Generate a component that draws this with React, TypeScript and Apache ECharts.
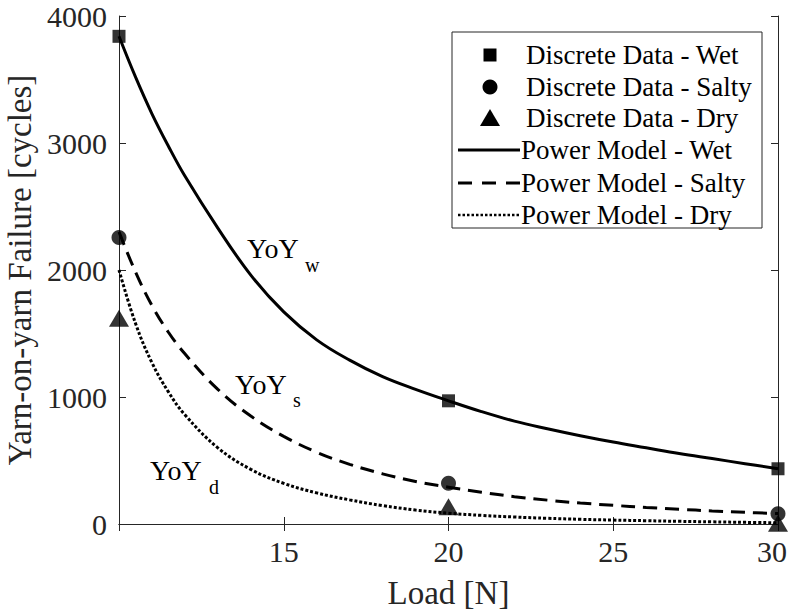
import React, { useEffect, useRef } from "react";
import * as echarts from "echarts";

// Discrete measurements
const loadPoints = [10, 20, 30];
const wetData = [3840, 970, 435];
const saltyData = [2255, 320, 80];
const dryData = [1620, 135, 5];

// Power-model curves
const modelLoads = [10, 10.5, 11, 11.5, 12, 13, 14, 15, 16, 17, 18, 19, 20, 21, 22, 23, 24, 25, 26, 27, 28, 29, 30];
const wetModel = [3840, 3520, 3230, 2975, 2740, 2330, 1960, 1670, 1450, 1290, 1160, 1060, 970, 885, 810, 750, 695, 645, 600, 555, 515, 475, 435];
const saltyModel = [2300, 1985, 1720, 1510, 1340, 1060, 850, 690, 565, 470, 395, 335, 290, 250, 215, 188, 165, 147, 130, 116, 103, 92, 82];
const dryModel = [2000, 1580, 1270, 1040, 860, 600, 430, 320, 245, 190, 145, 110, 85, 68, 55, 45, 37, 31, 26, 21, 17, 13, 10];

const legendLabels = [
  "Discrete Data - Wet",
  "Discrete Data - Salty",
  "Discrete Data - Dry",
  "Power Model - Wet",
  "Power Model - Salty",
  "Power Model - Dry",
];
const curveMain = ["YoY", "YoY", "YoY"];
const curveSubs = ["w", "s", "d"];

const xAxisName = "Load [N]";
const yAxisName = "Yarn-on-yarn Failure [cycles]";

const FONT = "Liberation Serif";
const AXIS_COLOR = "#262626";

function pairs(xs: number[], ys: number[]) {
  return xs.map((x, i) => [x, ys[i]]);
}

export default function App() {
  const ref = useRef<HTMLDivElement>(null);
  useEffect(() => {
    if (!ref.current) return;
    const chart = echarts.init(ref.current, null, { renderer: "svg" });

    const legendX = 452;
    const legendY = 32;
    const rowY = [55, 87, 118, 150, 183, 215];
    const symX = 490;
    const lineX1 = 458;
    const lineX2 = 520;

    const legendGraphics: any[] = [
      {
        type: "rect",
        shape: { x: legendX, y: legendY, width: 310, height: 196 },
        style: { fill: "#fff", stroke: AXIS_COLOR, lineWidth: 1 },
        z: 100,
      },
      {
        type: "rect",
        shape: { x: symX - 6.5, y: rowY[0] - 6.5, width: 13, height: 13 },
        style: { fill: "#000" },
        z: 101,
      },
      {
        type: "circle",
        shape: { cx: symX, cy: rowY[1], r: 7.5 },
        style: { fill: "#000" },
        z: 101,
      },
      {
        type: "polygon",
        shape: {
          points: [
            [symX - 10, rowY[2] + 8],
            [symX + 10, rowY[2] + 8],
            [symX, rowY[2] - 9],
          ],
        },
        style: { fill: "#000" },
        z: 101,
      },
      {
        type: "line",
        shape: { x1: lineX1, y1: rowY[3], x2: lineX2, y2: rowY[3] },
        style: { stroke: "#000", lineWidth: 3 },
        z: 101,
      },
      {
        type: "line",
        shape: { x1: lineX1, y1: rowY[4], x2: lineX2, y2: rowY[4] },
        style: { stroke: "#000", lineWidth: 3, lineDash: [14, 10] },
        z: 101,
      },
      {
        type: "line",
        shape: { x1: lineX1, y1: rowY[5], x2: lineX2, y2: rowY[5] },
        style: { stroke: "#000", lineWidth: 2.5, lineDash: [2.5, 2] },
        z: 101,
      },
    ];
    legendLabels.forEach((t, i) => {
      legendGraphics.push({
        type: "text",
        x: i < 3 ? 526 : 521,
        y: rowY[i],
        style: {
          text: t,
          fontFamily: FONT,
          fontSize: 27,
          fill: "#000",
          verticalAlign: "middle",
          align: "left",
        },
        z: 102,
      });
    });

    const annPos = [
      { x: 247, y: 248, sx: 305, sy: 265 },
      { x: 235, y: 384, sx: 293, sy: 400 },
      { x: 150, y: 470, sx: 209, sy: 487 },
    ];
    const annGraphics: any[] = [];
    annPos.forEach((p, i) => {
      annGraphics.push({
        type: "text",
        x: p.x,
        y: p.y,
        style: { text: curveMain[i], fontFamily: FONT, fontSize: 28, fill: "#000", verticalAlign: "middle" },
        z: 50,
      });
      annGraphics.push({
        type: "text",
        x: p.sx,
        y: p.sy,
        style: { text: curveSubs[i], fontFamily: FONT, fontSize: 20, fill: "#000", verticalAlign: "middle" },
        z: 50,
      });
    });

    const axisLabelStyle = { color: AXIS_COLOR, fontFamily: FONT, fontSize: 30 };

    chart.setOption({
      animation: false,
      backgroundColor: "#fff",
      grid: { left: 119, right: 11, top: 16, bottom: 91, outerBoundsMode: "none", containLabel: false },
      xAxis: [
        {
          type: "value",
          min: 10,
          max: 30,
          interval: 5,
          name: xAxisName,
          nameLocation: "middle",
          nameGap: 52,
          nameTextStyle: { color: AXIS_COLOR, fontFamily: FONT, fontSize: 33 },
          axisLine: { show: true, lineStyle: { color: AXIS_COLOR, width: 1 } },
          axisTick: { show: true, inside: true, length: 7, lineStyle: { color: AXIS_COLOR } },
          axisLabel: {
            ...axisLabelStyle,
            margin: 12,
            showMinLabel: false,
            formatter: (v: number) => (v === 30 ? `{last|${v}}` : String(v)),
            rich: {
              last: { ...axisLabelStyle, padding: [0, 12, 0, 0] },
            },
          },
          splitLine: { show: false },
        },
        {
          type: "value",
          position: "top",
          min: 10,
          max: 30,
          interval: 5,
          axisLine: { show: true, lineStyle: { color: AXIS_COLOR, width: 1 } },
          axisTick: { show: true, inside: true, length: 7, lineStyle: { color: AXIS_COLOR } },
          axisLabel: { show: false },
          splitLine: { show: false },
        },
      ],
      yAxis: [
        {
          type: "value",
          min: 0,
          max: 4000,
          interval: 1000,
          name: yAxisName,
          nameLocation: "middle",
          nameGap: 74,
          nameTextStyle: { color: AXIS_COLOR, fontFamily: FONT, fontSize: 33 },
          axisLine: { show: true, lineStyle: { color: AXIS_COLOR, width: 1 } },
          axisTick: { show: true, inside: true, length: 7, lineStyle: { color: AXIS_COLOR } },
          axisLabel: { ...axisLabelStyle, margin: 12, formatter: (v: number) => String(v) },
          splitLine: { show: false },
        },
        {
          type: "value",
          position: "right",
          min: 0,
          max: 4000,
          interval: 1000,
          axisLine: { show: true, lineStyle: { color: AXIS_COLOR, width: 1 } },
          axisTick: { show: true, inside: true, length: 7, lineStyle: { color: AXIS_COLOR } },
          axisLabel: { show: false },
          splitLine: { show: false },
        },
      ],
      series: [
        {
          name: legendLabels[3],
          type: "line",
          data: pairs(modelLoads, wetModel),
          smooth: 0.4,
          showSymbol: false,
          symbol: "none",
          lineStyle: { color: "#000", width: 3 },
          z: 3,
        },
        {
          name: legendLabels[4],
          type: "line",
          data: pairs(modelLoads, saltyModel),
          smooth: 0.4,
          showSymbol: false,
          symbol: "none",
          lineStyle: { color: "#000", width: 3, type: [14, 8] },
          z: 3,
        },
        {
          name: legendLabels[5],
          type: "line",
          data: pairs(modelLoads, dryModel),
          smooth: 0.4,
          showSymbol: false,
          symbol: "none",
          lineStyle: { color: "#000", width: 3, type: [3, 2] },
          z: 3,
        },
        {
          name: legendLabels[0],
          type: "scatter",
          data: pairs(loadPoints, wetData),
          symbol: "rect",
          symbolSize: 13,
          itemStyle: { color: "#000" },
          clip: false,
          z: 5,
        },
        {
          name: legendLabels[1],
          type: "scatter",
          data: pairs(loadPoints, saltyData),
          symbol: "circle",
          symbolSize: 15,
          itemStyle: { color: "#000" },
          clip: false,
          z: 5,
        },
        {
          name: legendLabels[2],
          type: "scatter",
          data: pairs(loadPoints, dryData),
          symbol: "triangle",
          symbolSize: [20, 17],
          itemStyle: { color: "#000" },
          clip: false,
          z: 5,
        },
      ],
      graphic: [...annGraphics, ...legendGraphics],
    });
    return () => chart.dispose();
  }, []);
  return (
    <div
      ref={ref}
      style={{ position: "fixed", left: 0, top: 0, width: 789, height: 615, background: "#fff" }}
    />
  );
}
